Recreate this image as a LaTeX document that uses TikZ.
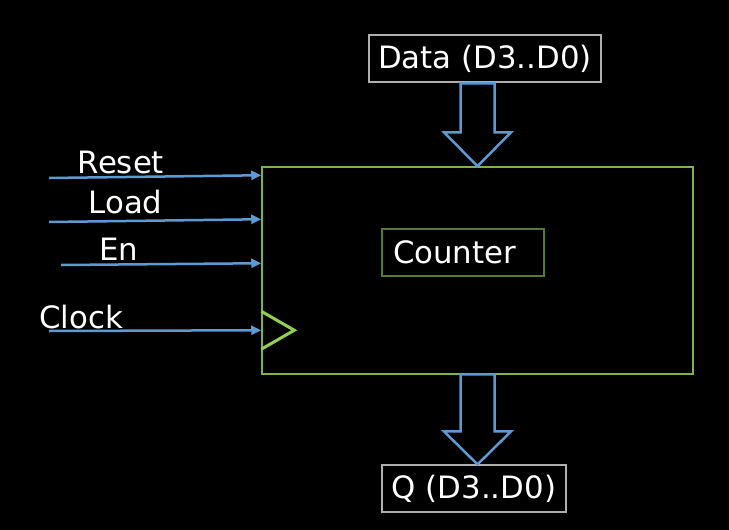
\documentclass[tikz,border=0pt]{standalone}
\usepackage{fontspec}
\setmainfont{DejaVu Sans}
\usetikzlibrary{arrows.meta}
\definecolor{wireblue}{RGB}{91,155,213}
\definecolor{boxgreen}{RGB}{125,178,72}
\definecolor{darkgreen}{RGB}{84,124,48}
\definecolor{clkgreen}{RGB}{146,208,80}
\definecolor{framegray}{RGB}{175,175,175}
\begin{document}
\begin{tikzpicture}[x=1pt,y=-1pt,
		txt/.style={text=white,font=\fontsize{30.8}{35}\selectfont},
		busbox/.style={txt,draw=framegray,line width=1.2pt,minimum height=47pt,inner sep=0pt},
		wire/.style={draw=wireblue,line width=2.5pt,-{Triangle[length=10pt,width=9pt]}},
		bus/.style={draw=wireblue,line width=2.5pt,line join=miter}]
	\fill[black] (0,0) rectangle (729,530);
	\node[draw=boxgreen,line width=1.5pt,minimum width=431pt,minimum height=207pt,inner sep=0pt] (block) at (477.5,270.5) {};
	\node[txt,draw=darkgreen,line width=1.2pt,minimum width=162pt,minimum height=47pt,text width=140pt,inner xsep=11pt,align=left] (name) at (463,252.5) {Counter};
	\node[busbox,minimum width=232pt] (data) at (485,58.5) {Data (D3..D0)};
	\node[busbox,minimum width=184pt] (q) at (474,488.5) {Q (D3..D0)};
	% bus arrows
	\draw[bus] (block.north) -- ++(-33.5,-34) -- ++(16.5,0) -- ++(0,-49) -- ++(34,0) -- ++(0,49) -- ++(16.5,0) -- cycle;
	\draw[bus] (q.north -| block.south) -- ++(-33.5,-33) -- ++(16.5,0) -- ++(0,-57) -- ++(34,0) -- ++(0,57) -- ++(16.5,0) -- cycle;
	% inputs
	\coordinate (resetin) at (49,178);
	\coordinate (loadin) at (49,222);
	\coordinate (enin) at (61,265);
	\coordinate (clockin) at (49,331);
	\draw[wire] (resetin) -- ([yshift=-9pt]block.north west);
	\draw[wire] (loadin) -- ([yshift=-53pt]block.north west);
	\draw[wire] (enin) -- ([yshift=-97pt]block.north west);
	\draw[wire] (clockin) -- ([yshift=-164pt]block.north west) coordinate (clk);
	\node[txt,anchor=base] (reset) at (121,173) {Reset};
	\node[txt,anchor=base] (load) at (125.5,213) {Load};
	\node[txt,anchor=base] (en) at (119,260.5) {En};
	\node[txt,anchor=base] (clock) at (81,328) {Clock};
	% clock triangle
	\draw[clkgreen,line width=3pt,line join=miter] (clk) ++(0,-19) -- ++(33,19) -- ++(-33,19);
\end{tikzpicture}
\end{document}
